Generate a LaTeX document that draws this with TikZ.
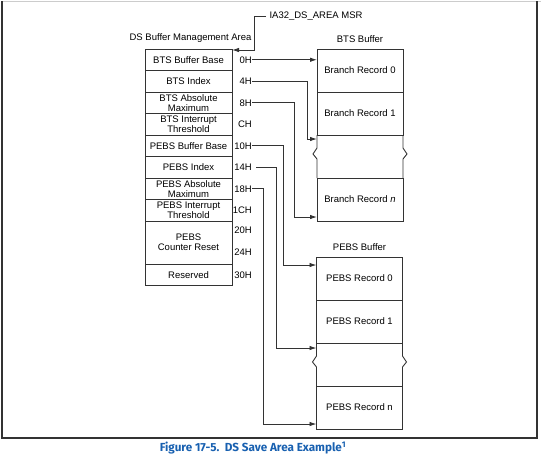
\documentclass[tikz,border=0pt]{standalone}
\usepackage{fontspec}
\setmainfont{Liberation Sans}
\newfontfamily\capfont{Fira Sans}
\usetikzlibrary{positioning}
\usetikzlibrary{arrows.meta}

\definecolor{linegray}{RGB}{51,51,51}
\definecolor{capblue}{RGB}{24,96,176}

\begin{document}
\begin{tikzpicture}[>={Latex[length=7pt,width=4.5pt]}, x=1pt, y=-1pt, font=\fontsize{9.5}{10}\selectfont]
    \tikzset{field/.style= {draw=linegray, line width=0.9pt, rectangle, align=center, outer sep=0pt, inner sep=0pt, minimum width=87pt, minimum height=21.5pt},}
    \tikzset{record/.style= {draw=linegray, line width=0.9pt, rectangle, align=center, outer sep=0pt, minimum width=86pt, minimum height=43pt},}
    \tikzset{off/.style= {anchor=east, inner sep=0pt},}
    \tikzset{wire/.style= {draw=linegray, line width=0.9pt},}

    \useasboundingbox (0,0) rectangle (554,458);

    % frame round the figure
    \draw[gray!40, line width=0.9pt] (2,1) -- (541,1);
    \draw[linegray, line width=1.2pt] (2,1) -- (2,438) -- (537,438) -- (537,1);

    % DS buffer management area
    \node [field] (btsbase) at (188.5,59.75) {BTS Buffer Base};
    \node [field, below =0pt of btsbase] (btsidx) {BTS Index};
    \node [field, below =0pt of btsidx] (btsmax) {BTS Absolute\\Maximum};
    \node [field, below =0pt of btsmax] (btsthr) {BTS Interrupt\\Threshold};
    \node [field, below =0pt of btsthr] (pebsbase) {PEBS Buffer Base};
    \node [field, below =0pt of pebsbase] (pebsidx) {PEBS Index};
    \node [field, below =0pt of pebsidx] (pebsmax) {PEBS Absolute\\Maximum};
    \node [field, below =0pt of pebsmax] (pebsthr) {PEBS Interrupt\\Threshold};
    \node [field, minimum height=43pt, below =0pt of pebsthr] (reset) {PEBS\\Counter Reset};
    \node [field, below =0pt of reset] (rsvd) {Reserved};

    \node [above =3pt of btsbase, xshift=2pt] (dsa) {DS Buffer Management Area};
    \node [anchor=west] (msr) at (266,16) {IA32\_DS\_AREA MSR};

    % offsets
    \node [off] (o0) at ([xshift=20pt]btsbase.east) {0H};
    \node [off] (o4) at ([xshift=20pt]btsidx.east) {4H};
    \node [off] (o8) at ([xshift=20pt]btsmax.east) {8H};
    \node [off] (oc) at ([xshift=20pt]btsthr.east) {CH};
    \node [off] (o10) at ([xshift=20pt]pebsbase.east) {10H};
    \node [off] (o14) at ([xshift=20pt]pebsidx.east) {14H};
    \node [off] (o18) at ([xshift=20pt]pebsmax.east) {18H};
    \node [off] (o1c) at ([xshift=20pt]pebsthr.east) {1CH};
    \node [off] (o20) at ([xshift=20pt,yshift=-9pt]reset.north east) {20H};
    \node [off] (o24) at ([xshift=20pt,yshift=12pt]reset.south east) {24H};
    \node [off] (o30) at ([xshift=20pt]rsvd.east) {30H};

    % BTS buffer
    \node [record] (br0) at (360,70.5) {Branch Record 0};
    \node [record, below =0pt of br0] (br1) {Branch Record 1};
    \node [record, draw=none, below =0pt of br1] (bgap) {};
    \node [record, below =0pt of bgap] (brn) {Branch Record \textit{n}};
    \node [above =3pt of br0] (btsbuf) {BTS Buffer};

    % PEBS buffer
    \node [record] (pr0) at (359.5,278.5) {PEBS Record 0};
    \node [record, below =0pt of pr0] (pr1) {PEBS Record 1};
    \node [record, draw=none, below =0pt of pr1] (pgap) {};
    \node [record, below =0pt of pgap] (prn) {PEBS Record n};
    \node [above =3pt of pr0] (pebsbuf) {PEBS Buffer};

    % broken sides
    \draw[wire] (bgap.north west) -- ++(0,13) -- ++(-4,6) -- ++(4,5) -- (bgap.south west);
    \draw[wire] (bgap.north east) -- ++(0,13) -- ++(4,6) -- ++(-4,5) -- (bgap.south east);
    \draw[wire] (pgap.north west) -- ++(0,13) -- ++(-4,6) -- ++(4,5) -- (pgap.south west);
    \draw[wire] (pgap.north east) -- ++(0,13) -- ++(4,6) -- ++(-4,5) -- (pgap.south east);

    % pointers
    \draw[wire,->] (msr.west) -| ([xshift=22pt,yshift=-1pt]btsbase.north east) -- ([yshift=-1pt]btsbase.north east);
    \draw[wire,->] (o0.east) -- (br0.west |- o0.east);
    \draw[wire,->] (o4.east) -- ++(55,0) |- ([yshift=-4pt]bgap.north west);
    \draw[wire,->] (o8.east) -- ++(42,0) |- ([yshift=4pt]brn.south west);
    \draw[wire,->] (o10.east) -- ++(31,0) |- ([yshift=-8pt]pr0.north west);
    \draw[wire,->] ([xshift=4pt]o14.east) -- ++(20,0) |- ([yshift=-5pt]pgap.north west);
    \draw[wire,->] (o18.east) -- ++(11,0) |- ([yshift=5pt]prn.south west);

    % caption
    \node [text=capblue, font=\capfont\bfseries\fontsize{11.7}{13}\selectfont] (cap) at (253,448) {Figure 17-5.\ \ DS Save Area Example\textsuperscript{1}};
\end{tikzpicture}
\end{document}
